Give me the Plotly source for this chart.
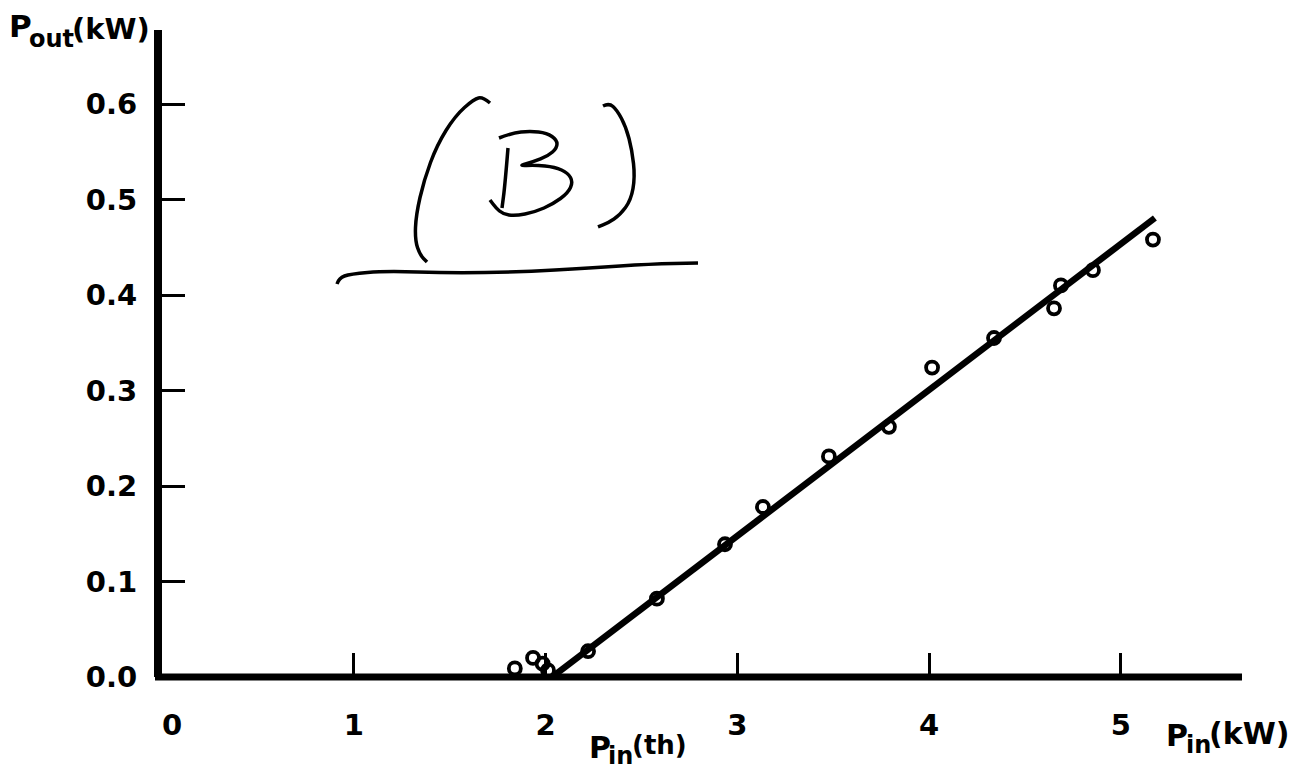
import plotly.graph_objects as go

# Measured input / output power (kW)
p_in = [1.84, 1.935, 1.985, 2.013, 2.008, 2.164, 2.222, 2.581, 2.936, 3.134,
        3.478, 3.791, 4.016, 4.339, 4.652, 4.688, 4.855, 5.168]
p_out = [0.009, 0.020, 0.014, 0.007, -0.004, -0.003, 0.027, 0.082, 0.139, 0.178,
         0.231, 0.262, 0.324, 0.355, 0.386, 0.410, 0.426, 0.458]

# Linear fit above threshold
fit_x = [2.034, 5.178]
fit_y = [0.0, 0.4806]

x_tick_vals = [0, 1, 2, 3, 4, 5]
x_tick_text = ["  0", "1", "2", "3", "4", "5"]
y_tick_vals = [0.0, 0.1, 0.2, 0.3, 0.4, 0.5, 0.6]
y_tick_text = ["0.0", "0.1", "0.2", "0.3", "0.4", "0.5", "0.6"]

W, H = 1301, 771
L, R, T, B = 162, 59, 30, 94
PW, PH = W - L - R, H - T - B

FONT = "DejaVu Sans"


def paper(px, py):
    return (px - L) / PW, (H - B - py) / PH


def smooth_path(pts):
    pp = [paper(x, y) for x, y in pts]
    d = "M {:.5f},{:.5f}".format(*pp[0])
    for i in range(1, len(pp) - 1):
        mx = (pp[i][0] + pp[i + 1][0]) / 2
        my = (pp[i][1] + pp[i + 1][1]) / 2
        d += " Q {:.5f},{:.5f} {:.5f},{:.5f}".format(pp[i][0], pp[i][1], mx, my)
    d += " L {:.5f},{:.5f}".format(*pp[-1])
    return d


fig = go.Figure()

fig.add_trace(go.Scatter(
    x=fit_x, y=fit_y, mode="lines",
    line=dict(color="black", width=6.5), showlegend=False, cliponaxis=False,
))
fig.add_trace(go.Scatter(
    x=p_in, y=p_out, mode="markers",
    marker=dict(symbol="circle-open", size=12, color="black", line=dict(width=3.8)),
    showlegend=False, cliponaxis=False,
))

# Handwritten "(B)" with underline
strokes = [
    [(490, 103), (483, 97), (474, 99), (455, 116), (437, 145), (424, 180),
     (416, 215), (415, 240), (420, 255), (427, 262)],
    [(508, 148), (505, 185), (502, 208)],
    [(499, 138), (512, 133), (530, 131), (547, 133), (557, 140), (557, 148),
     (548, 156), (533, 162), (518, 166), (535, 165), (555, 167), (568, 173),
     (573, 182), (568, 193), (553, 204), (535, 212), (515, 216), (503, 214),
     (496, 208), (490, 200)],
    [(603, 106), (609, 103), (617, 110), (626, 127), (632, 150), (635, 177),
     (631, 200), (620, 215), (608, 223), (598, 227)],
    [(337, 284), (339, 278), (350, 274), (385, 271), (450, 273), (520, 272),
     (590, 268), (650, 264), (698, 263)],
]
shapes = [dict(type="path", xref="paper", yref="paper", path=smooth_path(s),
               line=dict(color="black", width=3.5)) for s in strokes]

# Horizontal axis line at y = 0
x0a, _ = paper(155, 0)
x1a, _ = paper(1242, 0)
shapes.append(dict(type="line", xref="paper", yref="paper",
                   x0=x0a, x1=x1a, y0=0, y1=0,
                   line=dict(color="black", width=7)))

annotations = []


def label(text, px, py, size):
    x, y = paper(px, py)
    annotations.append(dict(
        text=text, x=x, y=y, xref="paper", yref="paper",
        xanchor="left", yanchor="middle", showarrow=False,
        font=dict(family=FONT, size=size, color="black", weight="bold"),
    ))


label("P", 7, 26, 31)
label("out", 27, 39, 24)
label("(kW)", 70, 29, 29)

label("P", 587, 747, 30)
label("in", 606, 756, 24)
label("(th)", 630, 745, 26)

label("P", 1164, 735, 30)
label("in", 1184, 745, 24)
label("(kW)", 1207, 733, 30)

fig.update_layout(
    width=W, height=H, autosize=False,
    margin=dict(l=L, r=R, t=T, b=B, pad=0),
    paper_bgcolor="white", plot_bgcolor="white",
    shapes=shapes, annotations=annotations,
    xaxis=dict(
        range=[0, PW / 191.75], showgrid=False, zeroline=False, showline=False,
        tickmode="array", tickvals=x_tick_vals, ticktext=x_tick_text,
        ticks="inside", ticklen=24, tickwidth=3, tickcolor="black",
        ticklabelstandoff=28,
        tickfont=dict(family=FONT, size=29, color="black", weight="bold"),
    ),
    yaxis=dict(
        range=[0, PH / 955.0], showgrid=False, zeroline=False,
        showline=True, linewidth=8, linecolor="black",
        tickmode="array", tickvals=y_tick_vals, ticktext=y_tick_text,
        ticks="inside", ticklen=23, tickwidth=3, tickcolor="black",
        ticklabelstandoff=11,
        tickfont=dict(family=FONT, size=29, color="black", weight="bold"),
    ),
)

fig.write_html("out.html")
